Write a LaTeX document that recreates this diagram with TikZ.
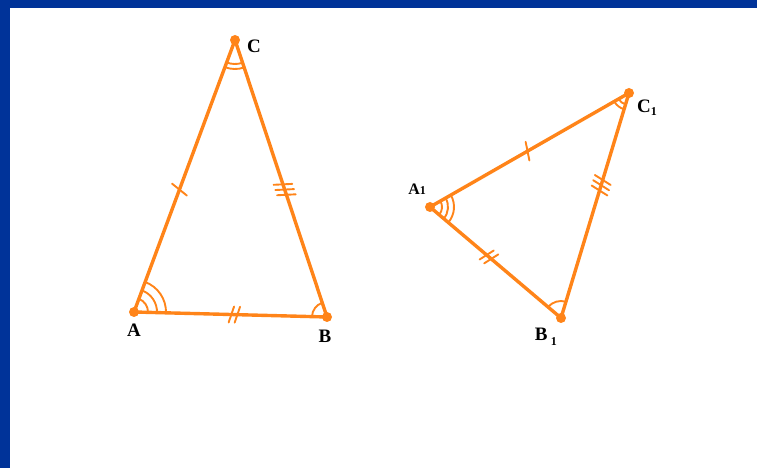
\documentclass[tikz,border=0pt]{standalone}
\usepackage{fontspec}
\setmainfont{Liberation Serif}
\usetikzlibrary{angles,positioning,decorations.markings}
\definecolor{porange}{HTML}{FF8419}
\definecolor{pblue}{HTML}{003399}
\tikzset{
  % orange side of a triangle, tick marks and angle arcs in the same hue
  side/.style   = {draw=porange, line width=3.4pt, line cap=round},
  vtx/.style    = {circle, fill=porange, inner sep=0pt, minimum size=10pt},
  tk/.style     = {draw=porange, line width=1.9pt},
  angarc/.style = {draw=porange, line width=1.9pt},
  lbl/.style    = {font=\bfseries\fontsize{19}{21}\selectfont, inner sep=0pt},
  lbls/.style   = {font=\bfseries\fontsize{16}{18}\selectfont, inner sep=0pt},
  tick one/.style   = {postaction={decorate, decoration={markings,
      mark=at position #1 with {\draw[tk] (-3pt,-9pt) -- (3pt,9pt);}}}},
  tick two/.style   = {postaction={decorate, decoration={markings,
      mark=at position #1 with {\draw[tk] (-5.5pt,-8pt) -- (-0.5pt,8pt);
                                \draw[tk] (0.5pt,-8pt) -- (5.5pt,8pt);}}}},
  tick three/.style = {postaction={decorate, decoration={markings,
      mark=at position #1 with {\draw[tk] (-8pt,-9pt) -- (-3pt,9pt);
                                \draw[tk] (-2.5pt,-9pt) -- (2.5pt,9pt);
                                \draw[tk] (3pt,-9pt) -- (8pt,9pt);}}}},
}

\begin{document}
\begin{tikzpicture}[x=1pt,y=1pt]
\useasboundingbox (0,0) rectangle (757,468);
% frame
\fill[pblue] (0,0) rectangle (10,468);
\fill[pblue] (0,460) rectangle (757,468);

% first triangle
\coordinate (A) at (134,156);
\coordinate (B) at (327,151);
\coordinate (C) at (235,428);
\draw[side, tick one=0.45]  (A) -- (C);
\draw[side, tick three=0.54] (C) -- (B);
\draw[side, tick two=0.52]  (A) -- (B);
\pic[angarc, angle radius=14pt] {angle=B--A--C};
\pic[angarc, angle radius=23pt] {angle=B--A--C};
\pic[angarc, angle radius=32pt] {angle=B--A--C};
\pic[angarc, angle radius=15pt] {angle=C--B--A};
\pic[angarc, angle radius=24pt] {angle=A--C--B};
\pic[angarc, angle radius=29pt] {angle=A--C--B};
\node[vtx] at (A) {};
\node[vtx] at (B) {};
\node[vtx] at (C) {};

% second triangle
\coordinate (A1) at (430,261);
\coordinate (C1) at (629,375);
\coordinate (B1) at (561,150);
\draw[side, tick one=0.49]   (A1) -- (C1);
\draw[side, tick three=0.41] (C1) -- (B1);
\draw[side, tick two=0.45]   (A1) -- (B1);
\pic[angarc, angle radius=12pt] {angle=B1--A1--C1};
\pic[angarc, angle radius=18pt] {angle=B1--A1--C1};
\pic[angarc, angle radius=24pt] {angle=B1--A1--C1};
\pic[angarc, angle radius=12pt] {angle=A1--C1--B1};
\pic[angarc, angle radius=17pt] {angle=A1--C1--B1};
\pic[angarc, angle radius=17pt] {angle=C1--B1--A1};
\node[vtx] at (A1) {};
\node[vtx] at (B1) {};
\node[vtx] at (C1) {};

% labels
\node[lbl, right=12pt of C, yshift=-6pt] (lC) {C};
\node[lbl, below=12pt of A] (lA) {A};
\node[lbl, below=13pt of B, xshift=-2pt] (lB) {B};
\node[lbls, above left=12pt and 4pt of A1] (lA1) {A{\fontsize{12}{14}\selectfont 1}};
\node[lbl, right=8pt of C1, yshift=-15pt] (lC1) {C\raisebox{-3pt}{\fontsize{12}{14}\selectfont 1}};
\node[lbl, below left=10pt and 4pt of B1] (lB1) {B\,\raisebox{-5pt}{\fontsize{12}{14}\selectfont 1}};
\end{tikzpicture}
\end{document}
